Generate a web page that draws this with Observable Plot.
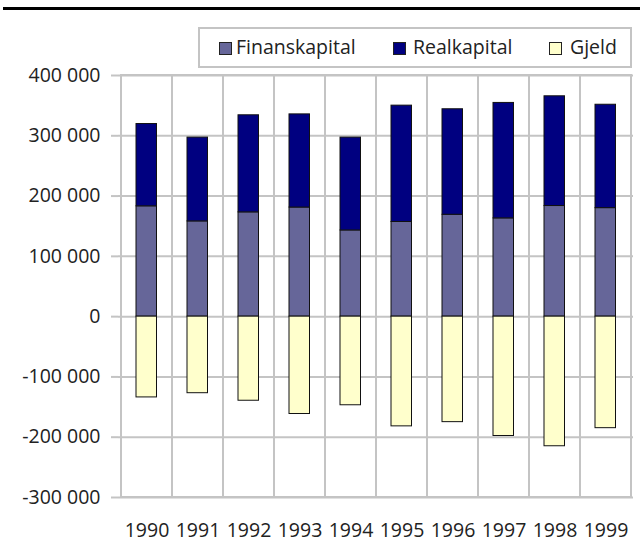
<!DOCTYPE html>
<html>
<head>
<meta charset="utf-8">
<script src="https://cdn.jsdelivr.net/npm/d3@7"></script>
<script src="https://cdn.jsdelivr.net/npm/@observablehq/plot@0.6"></script>
<style>
  html, body { margin: 0; padding: 0; background: #fff; }
  #page { position: relative; width: 640px; height: 543px; font-family: 'Open Sans', sans-serif; color: #222; }
  #topline { position: absolute; left: 3px; top: 7px; width: 637px; height: 3px; background: #000; }
  #legend { position: absolute; left: 198px; top: 27px; width: 434px; height: 41px; box-sizing: border-box; border: 2px solid #c4c4c4; background: #fff; }
  .sw { position: absolute; top: 41.5px; width: 13px; height: 13px; box-sizing: border-box; border: 1px solid #222; }
  .lab { position: absolute; top: 36.5px; font-size: 19.5px; line-height: 20px; color: #222; white-space: nowrap; }
  #chart { position: absolute; left: 0; top: 60px; }
</style>
</head>
<body>
<div id="page">
  <div id="topline"></div>
  <div id="chart"></div>
  <div id="legend-wrap"></div>
</div>
<script>
const years = [1990, 1991, 1992, 1993, 1994, 1995, 1996, 1997, 1998, 1999];
const finanskapital = [183000, 158000, 173000, 181000, 143000, 157000, 169000, 163000, 183500, 180000];
const realkapital   = [136500, 139000, 161000, 154500, 154000, 193000, 175000, 191500, 182000, 171500];
const gjeld         = [-134000, -127000, -139500, -161500, -147000, -182000, -175000, -198000, -215000, -185000];
const seriesNames = ["Finanskapital", "Realkapital", "Gjeld"];
const seriesColors = ["#666699", "#000080", "#ffffcc"];
const yTicks = [-300000, -200000, -100000, 0, 100000, 200000, 300000, 400000];

const rows = years.flatMap((yr, i) => [
  {year: yr, series: "Finanskapital", value: finanskapital[i]},
  {year: yr, series: "Realkapital", value: realkapital[i]},
  {year: yr, series: "Gjeld", value: gjeld[i]}
]);

const fmt = d => d3.format(",")(d).replace(/,/g, " ").replace("\u2212", "-");
const yMin = d3.min(yTicks), yMax = d3.max(yTicks);

const chart = Plot.plot({
  width: 640,
  height: 483,
  marginTop: 15,
  marginBottom: 46,
  marginLeft: 118,
  marginRight: 7,
  style: {fontFamily: "'Open Sans', sans-serif", fontSize: "19.5px", color: "#222", background: "transparent", overflow: "visible"},
  x: {type: "band", domain: years, padding: 0, axis: null, label: null},
  y: {domain: [yMin, yMax], axis: null, label: null},
  color: {domain: seriesNames, range: seriesColors},
  marks: [
    Plot.ruleY(yTicks, {stroke: "#c4c4c4", strokeWidth: 2}),
    Plot.barY(years, {x: d => d, y1: () => yMin, y2: () => yMax, fill: "none", stroke: "#c4c4c4", strokeWidth: 2}),
    Plot.barY(rows, Plot.stackY({x: "year", y: "value", fill: "series", order: seriesNames, stroke: "#111", strokeWidth: 1, insetLeft: 15, insetRight: 15.5})),
    Plot.axisY({ticks: yTicks, tickSize: 7, tickPadding: 11, stroke: "#c4c4c4", strokeWidth: 2, tickFormat: fmt, fill: "#222", label: null}),
    Plot.axisX({ticks: years, tickSize: 0, tickPadding: 26, tickFormat: d => String(d), fill: "#222", label: null})
  ]
});
document.getElementById("chart").appendChild(chart);

// legend
const legendLeft = [219, 393, 549];
const labelLeft = [236, 413, 570];
const wrap = document.getElementById("legend-wrap");
const box = document.createElement("div");
box.id = "legend";
wrap.appendChild(box);
seriesNames.forEach((name, i) => {
  const sw = document.createElement("div");
  sw.className = "sw";
  sw.style.left = legendLeft[i] + "px";
  sw.style.background = seriesColors[i];
  wrap.appendChild(sw);
  const lab = document.createElement("div");
  lab.className = "lab";
  lab.style.left = labelLeft[i] + "px";
  lab.textContent = name;
  wrap.appendChild(lab);
});
</script>
</body>
</html>
